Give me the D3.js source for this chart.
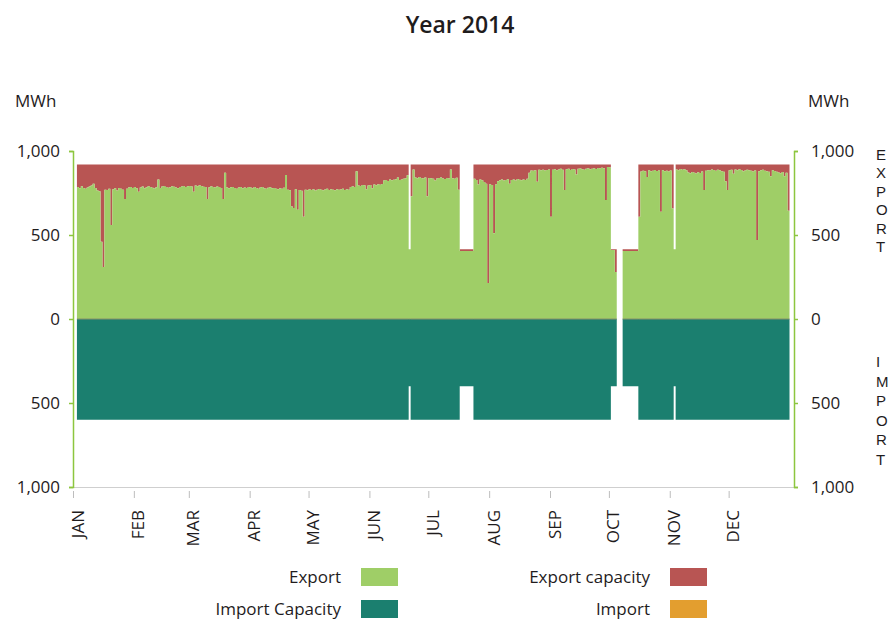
<!DOCTYPE html>
<html>
<head>
<meta charset="utf-8">
<script src="https://cdnjs.cloudflare.com/ajax/libs/d3/7.8.5/d3.min.js"></script>
<style>
body { margin: 0; background: #fff; }
text { font-family: "Open Sans", sans-serif; fill: #1f1c1d; }
</style>
</head>
<body>
<script>
var width = 888,
    height = 621;

// daily export, MWh (Jan 1 .. Dec 31 2014)
var exportMWh = [].concat(
  [0,0,785,778,790,780,775,782,788,795,805,780,765,760,460,310,770,768,775,560,772,778,765,780,775,770,714,776,782,785,780],
  [785,778,758,782,788,779,784,790,786,781,777,784,830,780,788,792,786,781,784,790,787,783,779,785,788,792,786,790],
  [792,788,758,795,790,796,792,787,785,714,784,790,786,782,788,785,780,714,870,782,778,784,786,780,776,782,785,779,783,780,786],
  [782,778,785,780,776,783,786,779,775,781,784,778,780,776,772,779,775,781,857,770,766,669,660,772,650,768,764,609,770,767],
  [773,768,772,765,770,774,769,766,771,775,768,772,770,766,773,769,771,775,768,772,770,786,790,785,880,795,792,798,796,772,794],
  [798,778,800,796,802,799,804,825,828,822,830,826,829,832,842,828,831,835,838,855,415,730,890,842,838,845,840,836,843,730],
  [840,838,835,825,836,839,842,837,834,840,836,890,838,835,841,770,405,405,405,405,405,405,405,835,828,800,830,826,815,805,215],
  [802,798,510,800,820,826,830,824,828,832,805,827,830,825,833,829,826,831,828,835,870,884,882,886,817,888,885,889,884,887,890],
  [609,888,892,886,890,894,889,768,891,895,887,893,890,860,894,896,891,889,895,898,892,894,897,893,899,896,900,898,708,905],
  [902,410,410,280,0,0,0,405,405,405,405,405,405,405,405,609,878,882,880,845,885,879,883,887,881,884,639,886,880,883,878],
  [884,657,415,890,886,893,888,892,885,872,868,875,870,866,873,869,878,768,882,886,884,890,887,883,889,885,880,876,820,768],
  [886,888,865,890,885,892,887,880,884,889,886,882,878,884,470,880,886,888,883,879,876,850,885,881,877,872,868,875,850,870,645]
);

// interconnector capacity periods (start date, export capacity, import capacity)
var periodStart = ["2014-01-03","2014-06-21","2014-06-22","2014-07-17","2014-07-24","2014-10-02",
                   "2014-10-05","2014-10-08","2014-10-16","2014-11-03","2014-11-04"];
var periodEnd = "2015-01-01";
var periodExportCap = [920,415,920,415,920,415,0,415,920,415,920];
var periodImportCap = [600,400,600,400,600,400,0,400,600,400,600];

var monthLabels = ["JAN","FEB","MAR","APR","MAY","JUN","JUL","AUG","SEP","OCT","NOV","DEC"];
var yTicks = [1000, 500, 0, -500, -1000];

var legendItems = [
  {name: "Export", color: "#9fce67"},
  {name: "Export capacity", color: "#b85553"},
  {name: "Import Capacity", color: "#1b7f6f"},
  {name: "Import", color: "#e39e2f"}
];

var parse = d3.timeParse("%Y-%m-%d");
var start = new Date(2014, 0, 1), end = new Date(2015, 0, 1);

var periods = periodStart.map(function (s, i) {
  return {
    from: parse(s),
    to: i < periodStart.length - 1 ? parse(periodStart[i + 1]) : parse(periodEnd),
    exp: periodExportCap[i],
    imp: periodImportCap[i]
  };
});

var days = exportMWh.map(function (v, i) {
  var date = d3.timeDay.offset(start, i);
  var p = periods.find(function (p) { return date >= p.from && date < p.to; });
  return {date: date, exp: v, cap: p ? p.exp : 0, imp: p ? p.imp : 0};
});
// closing point for the step curve
var last = days[days.length - 1];
days.push({date: end, exp: last.exp, cap: last.cap, imp: last.imp});

var svg = d3.select("body").append("svg")
    .attr("width", width)
    .attr("height", height);

var x = d3.scaleTime().domain([start, end]).range([73, 789.5]);
var y = d3.scaleLinear().domain([-1000, 1000]).range([487, 151]);

var areaExport = d3.area()
    .curve(d3.curveStepAfter)
    .x(function (d) { return x(d.date); })
    .y0(y(0))
    .y1(function (d) { return y(d.exp); });

var areaCap = d3.area()
    .curve(d3.curveStepAfter)
    .x(function (d) { return x(d.date); })
    .y0(function (d) { return y(d.exp); })
    .y1(function (d) { return y(Math.max(d.cap, d.exp)); });

var areaImportCap = d3.area()
    .curve(d3.curveStepAfter)
    .x(function (d) { return x(d.date); })
    .y0(y(0))
    .y1(function (d) { return y(-d.imp); });

svg.append("path").datum(days).attr("d", areaImportCap).attr("fill", "#1b7f6f");
svg.append("path").datum(days).attr("d", areaCap).attr("fill", "#b85553");
svg.append("path").datum(days).attr("d", areaExport).attr("fill", "#9fce67");

// zero line between export and import
svg.selectAll(".zero")
    .data(periods.filter(function (p) { return p.imp > 0; }))
    .enter().append("line")
    .attr("x1", function (d) { return x(d.from); })
    .attr("x2", function (d) { return x(d.to); })
    .attr("y1", y(0)).attr("y2", y(0))
    .attr("stroke", "#87906b")
    .attr("stroke-width", 1);

// x axis base line
svg.append("line")
    .attr("x1", 73).attr("x2", 794)
    .attr("y1", 487.5).attr("y2", 487.5)
    .attr("stroke", "#cfcfcf");

var xAxis = d3.axisBottom(x)
    .tickValues(d3.timeMonths(start, end))
    .tickSize(7)
    .tickFormat(function (d) { return monthLabels[d.getMonth()]; });

var gx = svg.append("g")
    .attr("transform", "translate(0,491)")
    .call(xAxis);
gx.select(".domain").remove();
gx.selectAll(".tick line").attr("stroke", "#bdbdbd");
gx.selectAll(".tick text")
    .attr("transform", "translate(10,19) rotate(-90)")
    .attr("x", 0).attr("y", 0).attr("dy", 0)
    .attr("text-anchor", "end")
    .attr("fill", "#1f1c1d")
    .style("font-size", "17px");

var fmt = function (d) { return d3.format(",")(Math.abs(d)); };

var yLeft = d3.axisLeft(y).tickValues(yTicks).tickFormat(fmt).tickSize(4).tickPadding(9);
var gl = svg.append("g").attr("transform", "translate(73,0)").call(yLeft);

var yRight = d3.axisRight(d3.scaleLinear().domain([-1000, 1000]).range([487, 151]))
    .tickValues(yTicks).tickFormat(fmt).tickSize(4).tickPadding(13);
var gr = svg.append("g").attr("transform", "translate(794,0)").call(yRight);

[gl, gr].forEach(function (g) {
  g.select(".domain").attr("stroke", "#8dc63f").attr("stroke-width", 1.5);
  g.selectAll(".tick line").attr("stroke", "#8dc63f").attr("stroke-width", 1.5);
  g.selectAll(".tick text").style("font-size", "17px").style("font-family", "'Open Sans', sans-serif").attr("fill", "#1f1c1d");
});

svg.append("text")
    .attr("x", 460).attr("y", 33)
    .attr("text-anchor", "middle")
    .style("font-size", "23px")
    .style("font-weight", 600)
    .text("Year 2014");

svg.append("text").attr("x", 15).attr("y", 107).style("font-size", "17px").text("MWh");
svg.append("text").attr("x", 808).attr("y", 107).style("font-size", "17px").text("MWh");

var side = svg.append("g");
"EXPORT".split("").forEach(function (c, i) {
  side.append("text").attr("x", 876).attr("y", 160 + i * 18.4)
      .style("font-family", "'Liberation Sans', Arial, sans-serif").style("font-size", "15px").text(c);
});
"IMPORT".split("").forEach(function (c, i) {
  side.append("text").attr("x", 876).attr("y", 367 + i * 19.6)
      .style("font-family", "'Liberation Sans', Arial, sans-serif").style("font-size", "15px").text(c);
});

// legend
var legend = svg.selectAll(".legend")
    .data(legendItems)
    .enter().append("g")
    .attr("class", "legend")
    .attr("transform", function (d, i) {
      return "translate(" + (i % 2 === 0 ? 341 : 650) + "," + (i < 2 ? 568 : 600) + ")";
    });
legend.append("text")
    .attr("x", 0).attr("y", 15)
    .attr("text-anchor", "end")
    .style("font-size", "17px")
    .text(function (d) { return d.name; });
legend.append("rect")
    .attr("x", 20).attr("y", 0)
    .attr("width", 37).attr("height", 18)
    .attr("fill", function (d) { return d.color; });
</script>
</body>
</html>
